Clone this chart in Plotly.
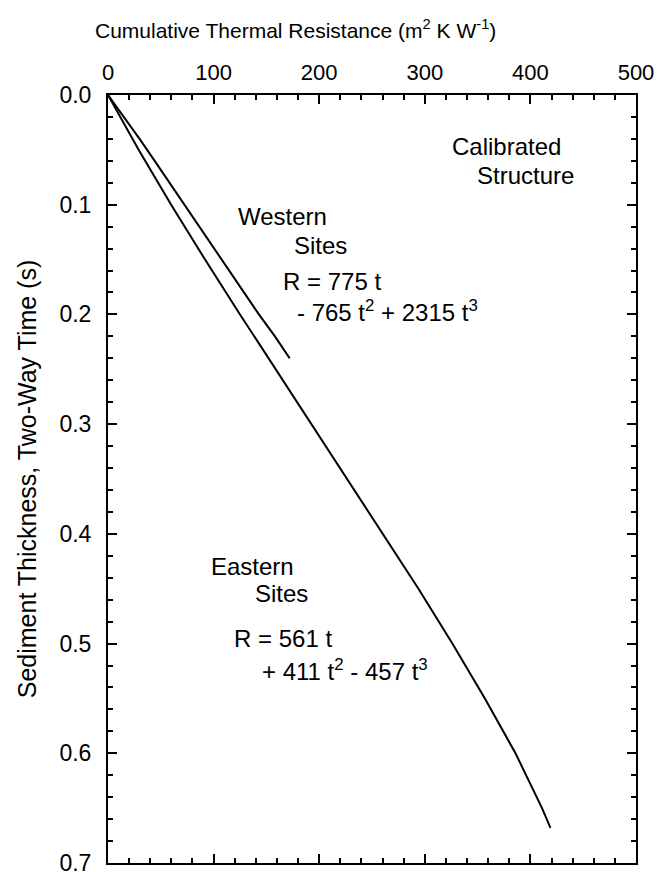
import plotly.graph_objects as go

# values (two-way time in s, cumulative resistance in m2 K/W)
west_t = [0.0, 0.02, 0.04, 0.06, 0.08, 0.10, 0.12, 0.14, 0.16, 0.18, 0.20, 0.22, 0.24]
west_R = [0.0, 15.2, 29.9, 44.2, 58.3, 72.2, 86.0, 99.9, 113.9, 128.2, 142.9, 158.1, 172.0]

east_t = [0.0, 0.05, 0.10, 0.15, 0.20, 0.25, 0.30, 0.35, 0.40, 0.45, 0.50, 0.55, 0.60, 0.65, 0.668]
east_R = [0.0, 29.0, 59.8, 91.9, 125.0, 158.8, 193.0, 227.1, 260.9, 294.0, 326.1, 356.9, 385.9, 411.0, 419.0]

x_ticks = [0, 100, 200, 300, 400, 500]
y_ticks = [0.0, 0.1, 0.2, 0.3, 0.4, 0.5, 0.6, 0.7]

FONT = "Liberation Sans, Arial, sans-serif"
NARROW = "Liberation Sans Narrow, Liberation Sans, Arial, sans-serif"

fig = go.Figure()
fig.add_trace(go.Scatter(x=west_R, y=west_t, mode="lines",
                         line=dict(color="black", width=2)))
fig.add_trace(go.Scatter(x=east_R, y=east_t, mode="lines",
                         line=dict(color="black", width=2)))

# text labels, left edge in data coordinates
labels = [
    (324, 0.047, "Calibrated"),
    (348, 0.073, "Structure"),
    (121, 0.111, "Western"),
    (174, 0.137, "Sites"),
    (164, 0.170, "R = 775 t"),
    (177, 0.197, "- 765 t<sup>2</sup> + 2315 t<sup>3</sup>"),
    (96, 0.430, "Eastern"),
    (137, 0.454, "Sites"),
    (117, 0.495, "R = 561 t"),
    (144, 0.524, "+ 411 t<sup>2</sup> - 457 t<sup>3</sup>"),
]
for x, y, txt in labels:
    fig.add_annotation(x=x, y=y, text=txt, showarrow=False, xanchor="left",
                       yanchor="middle", font=dict(size=24, color="black", family=FONT))

fig.add_annotation(xref="paper", yref="paper", x=(292 - 107) / 521, y=1 + (95 - 29) / 768,
                   text="Cumulative Thermal Resistance (m<sup>2</sup> K W<sup>-1</sup>)",
                   showarrow=False, xanchor="center", yanchor="middle",
                   font=dict(size=21, color="black", family=NARROW))

fig.update_xaxes(side="top", range=[0, 500], tickvals=x_ticks,
                 ticks="inside", ticklen=9, tickwidth=1.5, tickcolor="black",
                 minor=dict(dtick=20, ticks="inside", ticklen=5, tickcolor="black", tickwidth=1.5),
                 showline=True, linecolor="black", linewidth=2, mirror="ticks",
                 showgrid=False, zeroline=False, ticklabelstandoff=4,
                 tickfont=dict(size=22, color="black", family=FONT))
# the 0.7 label sits on the bottom edge of the page, so let it overflow
fig.update_yaxes(range=[0.7, 0.0], tickvals=y_ticks, tickformat=".1f",
                 ticks="inside", ticklen=9, tickwidth=1.5, tickcolor="black",
                 minor=dict(dtick=0.02, ticks="inside", ticklen=5, tickcolor="black", tickwidth=1.5),
                 showline=True, linecolor="black", linewidth=2, mirror="ticks",
                 showgrid=False, zeroline=False, ticklabelstandoff=10,
                 ticklabeloverflow="allow",
                 title=dict(text="Sediment Thickness, Two-Way Time (s)", standoff=16,
                            font=dict(size=25, color="black", family=NARROW)),
                 tickfont=dict(size=23, color="black", family=FONT))

# page body keeps an 8 px margin, so the figure is 8 px smaller than the window
fig.update_layout(width=655, height=864, showlegend=False,
                  plot_bgcolor="white", paper_bgcolor="white",
                  margin=dict(l=100, r=27, t=87, b=9, autoexpand=False),
                  font=dict(family=FONT, color="black"))

fig.write_html("out.html")
